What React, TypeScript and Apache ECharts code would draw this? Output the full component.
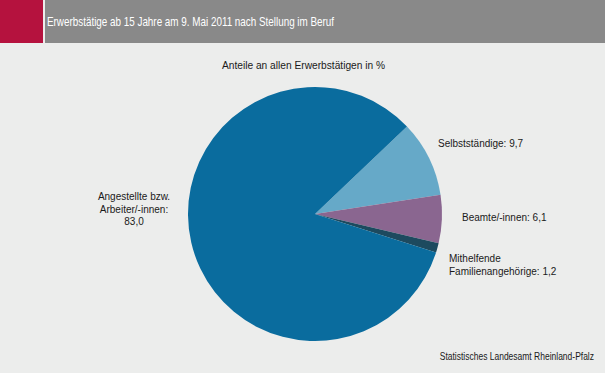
import React, { useEffect, useRef } from "react";
import * as echarts from "echarts";

const title = "Erwerbstätige ab 15 Jahre am 9. Mai 2011 nach Stellung im Beruf";
const subtitle = "Anteile an allen Erwerbstätigen in %";
const source = "Statistisches Landesamt Rheinland-Pfalz";
const categories = ["Selbstständige", "Beamte/-innen", "Mithelfende\nFamilienangehörige", "Angestellte bzw.\nArbeiter/-innen"];
const values = [9.7, 6.1, 1.2, 83.0];
const colors = ["#66a9c8", "#8a6690", "#1d4a5f", "#0a6c9e"];

const FONT = "'Liberation Sans', Arial, sans-serif";

// label anchor positions (layout only)
const labelPos = [
  { x: 438, y: 143, align: "left" },
  { x: 462, y: 217, align: "left" },
  { x: 449, y: 265, align: "left" },
  { x: 134, y: 209, align: "center" },
];

export default function App() {
  const ref = useRef<HTMLDivElement>(null);
  useEffect(() => {
    document.body.style.margin = "0";
    const chart = echarts.init(ref.current!, null, { renderer: "svg" });
    const fmt = (v: number) => v.toFixed(1).replace(".", ",");
    chart.setOption({
      animation: false,
      backgroundColor: "#ecedec",
      graphic: [
        { type: "rect", left: 0, top: 0, shape: { width: 43, height: 43 }, style: { fill: "#b5123e" } },
        { type: "rect", left: 45, top: 0, shape: { width: 560, height: 43 }, style: { fill: "#898989" } },
        {
          type: "text", x: 47, y: 21.5, scaleX: 0.79,
          style: { text: title, fill: "#ffffff", font: `12.5px ${FONT}`, textAlign: "left", textVerticalAlign: "middle" },
        },
        {
          type: "text", x: 303.5, y: 65.5,
          style: { text: subtitle, fill: "#1a1a1a", font: `10.2px ${FONT}`, textAlign: "center", textVerticalAlign: "middle" },
        },
        {
          type: "text", x: 594, y: 357, scaleX: 0.85,
          style: { text: source, fill: "#1a1a1a", font: `10px ${FONT}`, textAlign: "right", textVerticalAlign: "middle" },
        },
      ],
      series: [
        {
          type: "pie",
          center: [315, 214],
          radius: [0, 127],
          startAngle: 43.6,
          clockwise: true,
          silent: true,
          data: categories.map((c, i) => ({
            name: c,
            value: values[i],
            itemStyle: { color: colors[i] },
          })),
          label: {
            show: true,
            position: "outside",
            color: "#1a1a1a",
            fontFamily: FONT,
            fontSize: 10,
            lineHeight: 12.8,
            overflow: "none",
            formatter: (p: any) =>
              p.dataIndex === 3 ? `${p.name}:\n${fmt(p.value)}` : `${p.name}: ${fmt(p.value)}`,
          },
          labelLine: { show: false },
          labelLayout: (p: any) => {
            const l = labelPos[p.dataIndex];
            return { x: l.x, y: l.y, align: l.align, verticalAlign: "middle", width: 200 };
          },
        },
      ],
    });
    return () => chart.dispose();
  }, []);
  return <div ref={ref} style={{ position: "fixed", left: 0, top: 0, width: 605, height: 373 }} />;
}
